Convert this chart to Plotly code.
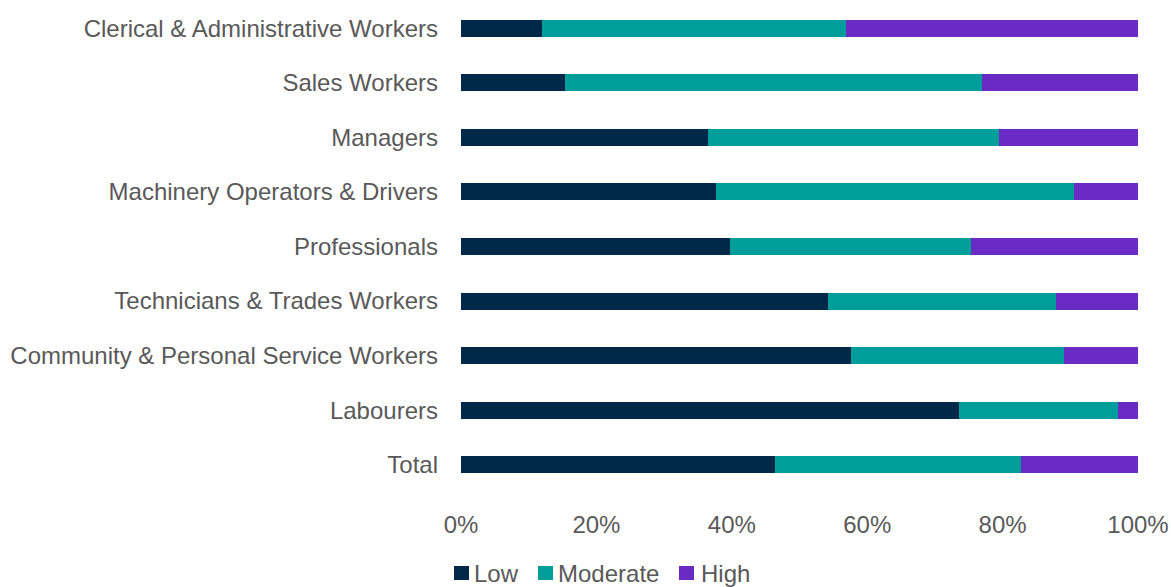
import plotly.graph_objects as go

categories = [
    "Clerical & Administrative Workers",
    "Sales Workers",
    "Managers",
    "Machinery Operators & Drivers",
    "Professionals",
    "Technicians & Trades Workers",
    "Community & Personal Service Workers",
    "Labourers",
    "Total",
]
low = [12.0, 15.4, 36.5, 37.7, 39.7, 54.2, 57.6, 73.6, 46.4]
moderate = [44.9, 61.6, 42.9, 52.9, 35.7, 33.7, 31.5, 23.5, 36.3]
high = [43.1, 23.0, 20.6, 9.4, 24.6, 12.1, 10.9, 2.9, 17.3]

series_names = ["Low", "Moderate", "High"]
series_values = [low, moderate, high]
series_colors = ["#002848", "#009E9A", "#6A2BC4"]

W, H = 1171, 587
ML, MR, MT, MB = 461, 33, 1, 95
PW, PH = W - ML - MR, H - MT - MB


def px_x(px):
    return (px - ML) / PW


def px_y(py):
    return (H - MB - py) / PH


fig = go.Figure()
for name, vals, color in zip(series_names, series_values, series_colors):
    fig.add_trace(go.Bar(
        y=categories, x=[v / 100 for v in vals], name=name, orientation="h",
        marker=dict(color=color, line=dict(width=0)), width=0.31, showlegend=False,
    ))

# custom legend (keys + labels) below the axis
legend_key_left = [454, 538, 679]
legend_text_left = [473, 557, 700]
for name, color, kx, tx in zip(series_names, series_colors, legend_key_left, legend_text_left):
    fig.add_shape(type="rect", xref="paper", yref="paper",
                  x0=px_x(kx), x1=px_x(kx + 15), y0=px_y(580), y1=px_y(566),
                  fillcolor=color, line=dict(width=0))
    fig.add_annotation(text=name, xref="paper", yref="paper", x=px_x(tx), y=px_y(573),
                       xanchor="left", yanchor="middle", showarrow=False, borderpad=0,
                       font=dict(size=24, color="#595959"))

fig.update_layout(
    barmode="stack",
    width=W, height=H,
    margin=dict(l=ML, r=MR, t=MT, b=MB, autoexpand=False),
    plot_bgcolor="white", paper_bgcolor="white",
    font=dict(family="Liberation Sans, Arial, sans-serif", size=24, color="#595959"),
    xaxis=dict(range=[0, 1], tickvals=[0, 0.2, 0.4, 0.6, 0.8, 1.0], tickformat=".0%",
               showgrid=False, zeroline=False, showline=False, ticklabelstandoff=16,
               fixedrange=True),
    yaxis=dict(autorange="reversed", showgrid=False, showline=False, ticklabelstandoff=22,
               fixedrange=True),
    showlegend=False,
    bargap=0.69,
)

fig.write_html("out.html", post_script="document.body.style.margin='0';", config={"displayModeBar": False})
